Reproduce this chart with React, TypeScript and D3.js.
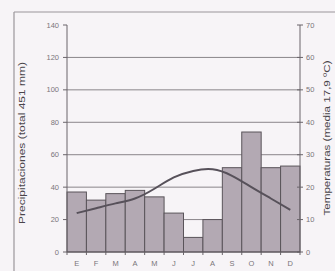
import React from 'react';
import * as d3 from 'd3';

const months = ['E', 'F', 'M', 'A', 'M', 'J', 'J', 'A', 'S', 'O', 'N', 'D'];
const precip = [37, 32, 36, 38, 34, 24, 9, 20, 52, 74, 52, 53];
const temp = [12, 13.5, 15, 16.5, 19.5, 23, 25, 25.5, 23.5, 20, 16.5, 13];
const precipTicks = [0, 20, 40, 60, 80, 100, 120, 140];
const tempTicks = [0, 10, 20, 30, 40, 50, 60, 70];

export default function App() {
  const width = 335, height = 271;
  const left = 67, right = 300, top = 25, bottom = 252;

  const x = d3.scaleBand<number>().domain(d3.range(12)).range([left, right]).padding(0);
  const yP = d3.scaleLinear().domain([0, 140]).range([bottom, top]);
  const yT = d3.scaleLinear().domain([0, 70]).range([bottom, top]);

  const line = d3.line<number>()
    .x((d, i) => x(i)! + x.bandwidth() / 2)
    .y(d => yT(d))
    .curve(d3.curveNatural);

  const tickCol = '#7a757a';
  const font = 'Liberation Sans, Arial, sans-serif';

  return (
    <>
      <style>{`body{margin:0}`}</style>
      <svg width={width} height={height} style={{ display: 'block', background: '#f7f4f7' }}>
        {/* frame */}
        <line x1={14} x2={14} y1={12} y2={271} stroke="#9a959a" strokeWidth={1.2} />
        <line x1={14} x2={335} y1={12} y2={12} stroke="#9a959a" strokeWidth={1} />

        {/* grid */}
        {precipTicks.filter(t => t > 0 && t < 140).map(t => (
          <line key={t} x1={left} x2={right} y1={yP(t)} y2={yP(t)} stroke="#8a858a" strokeWidth={1} />
        ))}

        {/* bars */}
        {precip.map((v, i) => (
          <rect key={i} x={x(i)} y={yP(v)} width={x.bandwidth()} height={bottom - yP(v)}
            fill="#b3a9b3" stroke="#5a545a" strokeWidth={1} />
        ))}

        {/* temperature */}
        <path d={line(temp) || ''} fill="none" stroke="#57515a" strokeWidth={2} />

        {/* left axis */}
        <line x1={left} x2={left} y1={top} y2={bottom} stroke="#6a656a" />
        {precipTicks.map(t => (
          <g key={t}>
            <line x1={left - 4} x2={left} y1={yP(t)} y2={yP(t)} stroke="#6a656a" />
            <text x={left - 8} y={yP(t)} dy="0.35em" textAnchor="end" fontSize={7.5}
              fontFamily={font} fill={tickCol}>{t}</text>
          </g>
        ))}

        {/* right axis */}
        <line x1={right} x2={right} y1={top} y2={bottom} stroke="#6a656a" />
        {tempTicks.map(t => (
          <g key={t}>
            <line x1={right - 3} x2={right + 3} y1={yT(t)} y2={yT(t)} stroke="#6a656a" />
            <text x={right + 6} y={yT(t)} dy="0.35em" textAnchor="start" fontSize={7.5}
              fontFamily={font} fill={tickCol}>{t}</text>
          </g>
        ))}

        {/* x axis */}
        <line x1={left} x2={right} y1={bottom} y2={bottom} stroke="#5e585e" />
        {d3.range(13).map(i => {
          const px = left + i * x.step();
          return <line key={i} x1={px} x2={px} y1={bottom} y2={bottom + 3} stroke="#6a656a" />;
        })}
        {months.map((m, i) => (
          <text key={i} x={x(i)! + x.bandwidth() / 2} y={266} textAnchor="middle" fontSize={7.5}
            fontFamily={font} fill={tickCol}>{m}</text>
        ))}

        {/* axis titles */}
        <text transform={`translate(25,143) rotate(-90)`} textAnchor="middle"
          fontSize={9} fontFamily={font} fill="#4a454a" textLength={162} lengthAdjust="spacingAndGlyphs">
          Precipitaciones (total 451 mm)</text>
        <text transform={`translate(330,138) rotate(-90)`} textAnchor="middle"
          fontSize={9} fontFamily={font} fill="#4a454a" textLength={155} lengthAdjust="spacingAndGlyphs">
          Temperaturas (media 17,9 ºC)</text>
      </svg>
    </>
  );
}
